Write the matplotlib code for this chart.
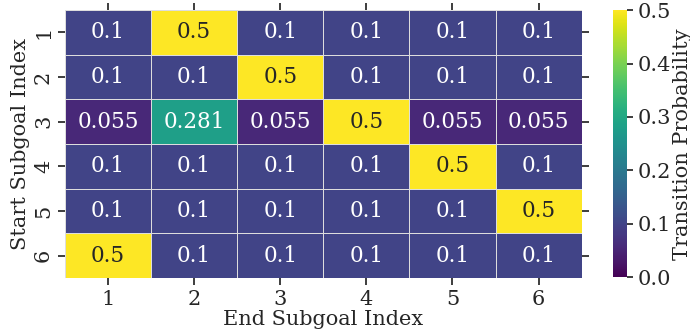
import numpy as np
import matplotlib
matplotlib.use('Agg')
import matplotlib.pyplot as plt
import seaborn as sns

sns.set_theme(style='ticks')
plt.rcParams['font.family'] = ['DejaVu Serif']

labels = ['1', '2', '3', '4', '5', '6']
row1 = [0.1, 0.5, 0.1, 0.1, 0.1, 0.1]
row2 = [0.1, 0.1, 0.5, 0.1, 0.1, 0.1]
row3 = [0.055, 0.281, 0.055, 0.5, 0.055, 0.055]
row4 = [0.1, 0.1, 0.1, 0.1, 0.5, 0.1]
row5 = [0.1, 0.1, 0.1, 0.1, 0.1, 0.5]
row6 = [0.5, 0.1, 0.1, 0.1, 0.1, 0.1]
probs = np.array([row1, row2, row3, row4, row5, row6])

fig = plt.figure(figsize=(6.9, 3.35), dpi=100)
ax = fig.add_axes([0.094, 0.17, 0.749, 0.80])
cax = fig.add_axes([0.888, 0.172, 0.021, 0.798])

annot = [[('%g' % v) for v in r] for r in probs]
sns.heatmap(probs, ax=ax, cbar_ax=cax, cmap='viridis', vmin=0, vmax=0.5,
            annot=np.array(annot), fmt='', linewidths=0.5, linecolor='#dddddd',
            annot_kws={'fontsize': 15.5},
            xticklabels=labels, yticklabels=labels,
            cbar_kws={'label': 'Transition Probability'})

ax.tick_params(top=True, right=True, labeltop=False, labelright=False,
               labelsize=15, colors='#262626', length=5)
ax.tick_params(axis='y', labelrotation=90)
for t in ax.get_yticklabels():
    t.set_va('center')
ax.set_xlabel('End Subgoal Index', fontsize=15, color='#262626', labelpad=1)
ax.set_ylabel('Start Subgoal Index', fontsize=15, color='#262626', labelpad=3)

cax.tick_params(labelsize=15, colors='#262626', length=4)
cax.set_ylabel('Transition Probability', fontsize=15, color='#262626', labelpad=1)
cax.set_yticks([0, 0.1, 0.2, 0.3, 0.4, 0.5])
cax.set_yticklabels(['0.0', '0.1', '0.2', '0.3', '0.4', '0.5'])

fig.savefig('out.png', dpi=100)
